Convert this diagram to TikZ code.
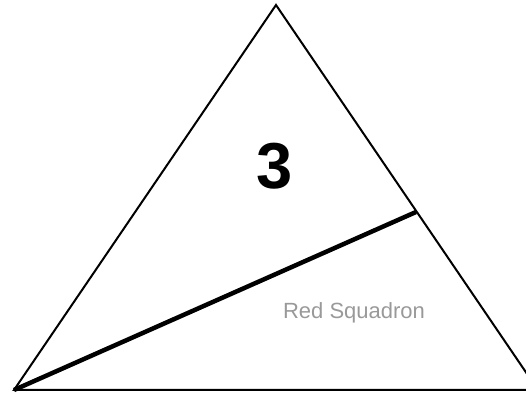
\documentclass[tikz,border=0pt]{standalone}
\usepackage{fontspec}
\setmainfont{Liberation Sans}
\definecolor{labelgray}{HTML}{999999}
\begin{document}
\begin{tikzpicture}[x=1pt,y=1pt,
  edge/.style={line width=2pt,line join=miter},
  thickedge/.style={line width=4.5pt},
  bignum/.style={font=\fontsize{65}{65}\selectfont\bfseries,inner sep=0pt},
  lbl/.style={font=\fontsize{22}{22}\selectfont,text=labelgray,inner sep=0pt}]
\useasboundingbox (0,0) rectangle (526,395);
\begin{scope}
\clip (0,0) rectangle (526,395);
\coordinate (A) at (276,390);
\coordinate (L) at (14,5);
\coordinate (R) at (538,5);
\coordinate (M) at (416,183);
\draw[edge] (L) -- (A) -- (R) -- cycle;
\draw[thickedge] (L) -- (M);
\end{scope}
\node[bignum] (n3) at (275,229) {3};
\node[lbl] (rs) at (354,82) {Red Squadron};
\end{tikzpicture}
\end{document}
